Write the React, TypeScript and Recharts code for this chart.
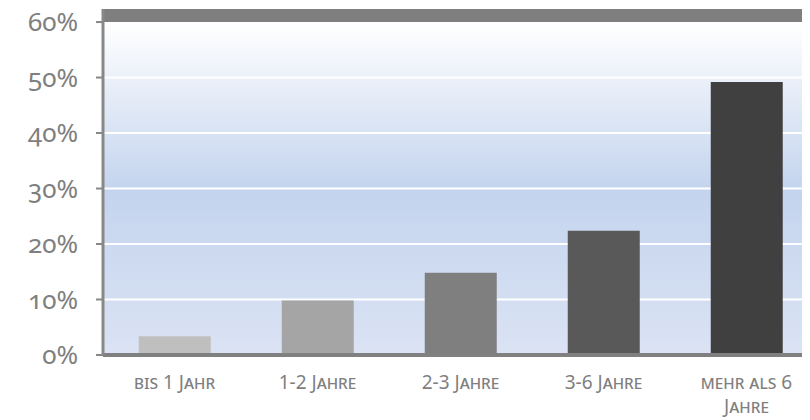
import React from "react";
import { BarChart, Bar, XAxis, YAxis, CartesianGrid, Cell, ReferenceArea, Text } from "recharts";

const categories = ["bis 1 Jahr", "1-2 Jahre", "2-3 Jahre", "3-6 Jahre", "mehr als 6 Jahre"];
const values = [3.4, 9.8, 14.8, 22.4, 49.2];
const barColors = ["#bfbfbf", "#a5a5a5", "#7f7f7f", "#595959", "#404040"];
const yTicks = [0, 10, 20, 30, 40, 50, 60];
const boundaryTicks = [0, 1, 2, 3, 4, 5];

const data = categories.map((c, i) => ({ name: c, v: values[i] }));

const FONT = "'Noto Sans', 'Open Sans', sans-serif";

const XTick = (props: any) => {
  const { x, y, payload } = props;
  return (
    <Text
      x={x}
      y={y + 13}
      width={118}
      textAnchor="middle"
      verticalAnchor="start"
      lineHeight={24}
      fill="#7f7f7f"
      style={{ fontFamily: FONT, fontSize: 19, fontVariant: "small-caps" }}
    >
      {payload.value}
    </Text>
  );
};

const YTick = (props: any) => {
  const { x, y, payload } = props;
  return (
    <text
      x={x - 16}
      y={y}
      dy={9}
      textAnchor="end"
      fill="#7f7f7f"
      style={{ fontFamily: FONT, fontSize: 26, fontVariantNumeric: "oldstyle-nums" }}
    >
      {payload.value + "%"}
    </text>
  );
};

export default function App() {
  return (
    <div style={{ width: 830, height: 420, marginTop: -8, overflow: "visible" }}>
      <BarChart
        width={830}
        height={420}
        data={data}
        margin={{ top: 9, right: 20, bottom: 6, left: 0 }}
        barCategoryGap="25%"
      >
        <defs>
          <linearGradient id="bg" x1="0" y1="0" x2="0" y2="1">
            <stop offset="0.04" stopColor="#ffffff" />
            <stop offset="0.52" stopColor="#c4d4ee" />
            <stop offset="1" stopColor="#dbe3f4" />
          </linearGradient>
        </defs>
        <CartesianGrid vertical={false} stroke="#ffffff" strokeWidth={2} fill="url(#bg)" fillOpacity={1} />
        <XAxis
          xAxisId="b"
          type="number"
          domain={[0, 5]}
          ticks={boundaryTicks}
          height={0}
          axisLine={false}
          tickLine={{ stroke: "#888888", strokeWidth: 1 }}
          tickSize={5}
          tickFormatter={() => ""}
        />
        <XAxis
          dataKey="name"
          height={59}
          interval={0}
          tickLine={false}
          axisLine={{ stroke: "#808080", strokeWidth: 4 }}
          tick={<XTick />}
        />
        <YAxis
          width={95}
          domain={[0, 62.35]}
          ticks={yTicks}
          allowDataOverflow
          axisLine={{ stroke: "#888888", strokeWidth: 3 }}
          tickLine={{ stroke: "#888888", strokeWidth: 2 }}
          tickSize={7}
          tick={<YTick />}
        />
        <ReferenceArea y1={60} y2={62.35} fill="#7f7f7f" fillOpacity={1} stroke="none" ifOverflow="visible" />
        <Bar dataKey="v" isAnimationActive={false}>
          {data.map((d, i) => (
            <Cell key={d.name} fill={barColors[i]} />
          ))}
        </Bar>
      </BarChart>
    </div>
  );
}
